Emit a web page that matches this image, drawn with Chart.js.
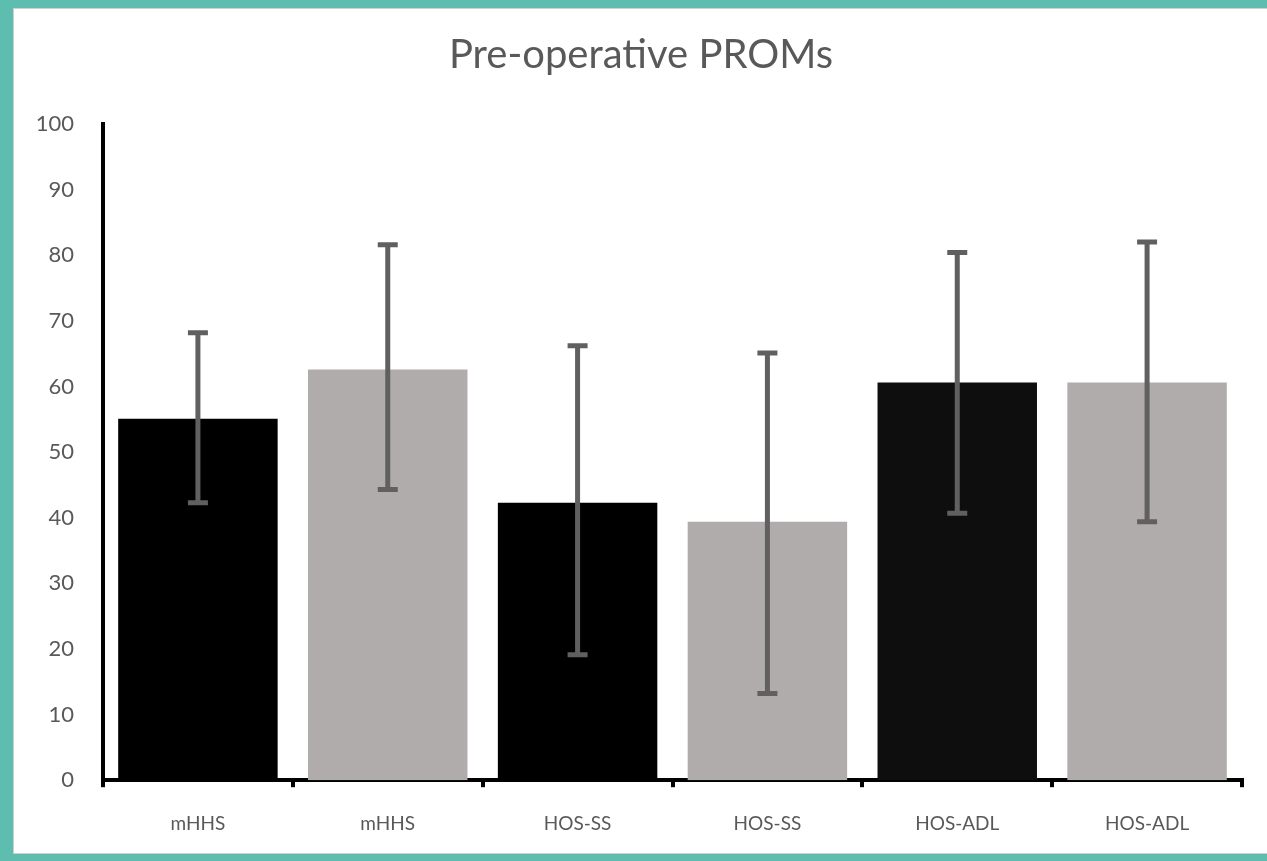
<!DOCTYPE html>
<html lang="en">
<head>
    <meta charset="UTF-8">
    <title>Pre-operative PROMs</title>
    <script src="https://cdn.jsdelivr.net/npm/chart.js"></script>
    <style>
        html, body { margin: 0; padding: 0; overflow: hidden; }
        body { width: 1267px; height: 861px; background: #5dbdae; position: relative; }
        #panel {
            position: absolute; left: 13px; top: 8px;
            width: 1260px; height: 846px;
            background: #fff; border: 1px solid #cfcfcf; box-sizing: border-box;
        }
        #wrap { position: absolute; left: 0; top: 0; width: 1254px; height: 851px; }
    </style>
</head>
<body>
    <div id="panel">
        <div id="wrap"><canvas id="myChart"></canvas></div>
    </div>

    <script>
        // данные с графика
        const labels = ['mHHS', 'mHHS', 'HOS-SS', 'HOS-SS', 'HOS-ADL', 'HOS-ADL'];
        const means = [55.1, 62.6, 42.3, 39.4, 60.6, 60.6];
        const errLow = [42.3, 44.3, 19.1, 13.2, 40.7, 39.4];
        const errHigh = [68.2, 81.6, 66.2, 65.1, 80.4, 82.0];
        const barColors = ['#000000', '#b0acab', '#000000', '#b0acab', '#0e0e0e', '#b0acab'];
        const yTicks = [0, 10, 20, 30, 40, 50, 60, 70, 80, 90, 100];

        const textColor = '#595959';

        // усы погрешностей
        const errorBars = {
            id: 'errorBars',
            afterDatasetsDraw(chart) {
                const ctx = chart.ctx;
                const y = chart.scales.y;
                const meta = chart.getDatasetMeta(0);
                ctx.save();
                ctx.strokeStyle = '#606060';
                ctx.lineWidth = 5;
                meta.data.forEach((bar, i) => {
                    const top = y.getPixelForValue(errHigh[i]);
                    const bot = y.getPixelForValue(errLow[i]);
                    ctx.beginPath();
                    ctx.moveTo(bar.x, top);
                    ctx.lineTo(bar.x, bot);
                    ctx.moveTo(bar.x - 10, top);
                    ctx.lineTo(bar.x + 10, top);
                    ctx.moveTo(bar.x - 10, bot);
                    ctx.lineTo(bar.x + 10, bot);
                    ctx.stroke();
                });
                ctx.restore();
            }
        };

        new Chart(document.getElementById('myChart'), {
            type: 'bar',
            data: {
                labels: labels,
                datasets: [{
                    data: means,
                    backgroundColor: barColors,
                    borderWidth: 0,
                    categoryPercentage: 1,
                    barPercentage: 0.84
                }]
            },
            options: {
                responsive: true,
                maintainAspectRatio: false,
                animation: false,
                layout: { padding: { left: 0, right: 0, top: 10, bottom: 0 } },
                plugins: {
                    legend: { display: false },
                    tooltip: { enabled: false },
                    title: {
                        display: true,
                        text: 'Pre-operative PROMs',
                        color: textColor,
                        font: { family: 'Lato', size: 40, weight: 'normal' },
                        padding: { top: 12, bottom: 45 }
                    }
                },
                scales: {
                    x: {
                        grid: {
                            offset: true,
                            drawOnChartArea: false,
                            drawTicks: true,
                            tickLength: 7,
                            color: '#000',
                            lineWidth: 4
                        },
                        border: { color: '#000', width: 4 },
                        ticks: {
                            color: textColor,
                            padding: 25,
                            font: { family: 'Lato', size: 19 }
                        }
                    },
                    y: {
                        min: 0,
                        max: 100,
                        afterBuildTicks: (axis) => { axis.ticks = yTicks.map(v => ({ value: v })); },
                        afterFit: (axis) => { axis.width = 89; },
                        grid: { display: false },
                        border: { color: '#000', width: 4 },
                        ticks: {
                            color: textColor,
                            padding: 21,
                            font: { family: 'Lato', size: 22 }
                        }
                    },
                    // пустая правая ось, только чтобы отодвинуть край графика
                    yr: {
                        position: 'right',
                        afterFit: (axis) => { axis.width = 26; },
                        grid: { display: false },
                        border: { display: false },
                        ticks: { display: false }
                    }
                }
            },
            plugins: [errorBars]
        });
    </script>
</body>
</html>
